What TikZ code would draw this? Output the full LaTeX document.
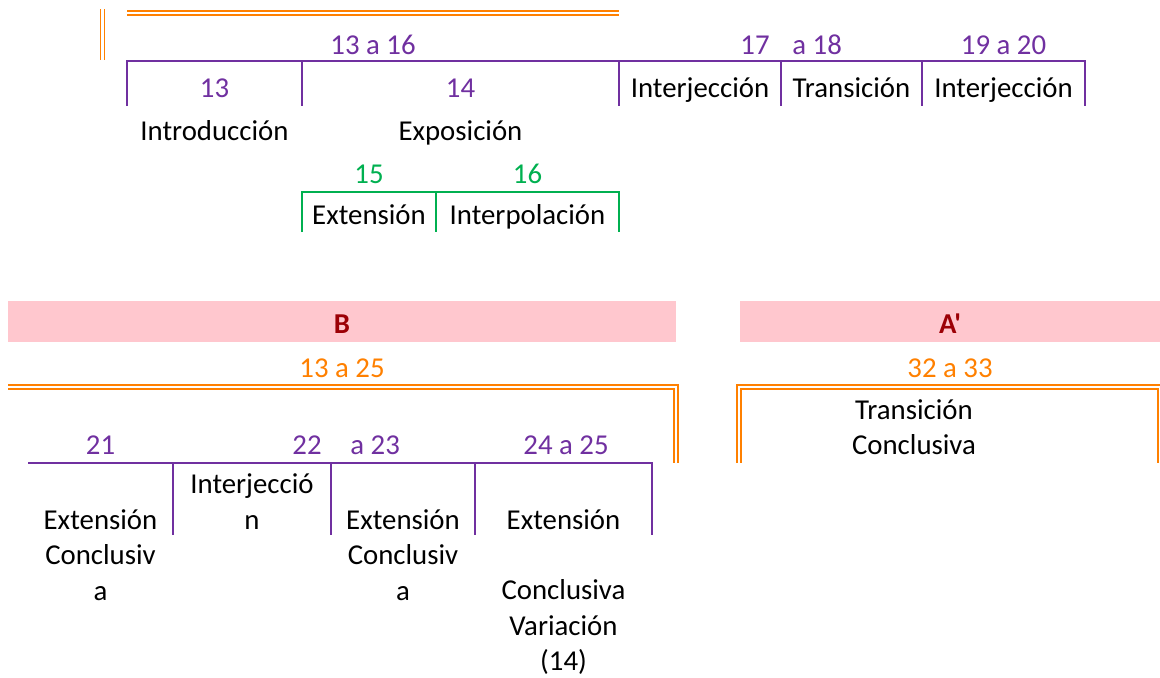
\documentclass[tikz,border=0pt]{standalone}
\usepackage{fontspec}
\setmainfont{Carlito}[Ligatures=TeXOff]
\usetikzlibrary{positioning}
\definecolor{plum}{RGB}{112,48,160}
\definecolor{fern}{RGB}{0,176,80}
\definecolor{tangerine}{RGB}{255,128,0}
\definecolor{blush}{RGB}{255,199,206}
\definecolor{wine}{RGB}{156,0,6}
\tikzset{
  lbl/.style={anchor=base,inner sep=0pt,font=\fontsize{14.4}{17.75}\selectfont,text=#1},
  lbl/.default=black,
  rule/.style={draw=#1,line width=1pt},
  rule/.default=plum,
  dbl/.style={draw=tangerine,line width=0.85pt,double=white,double distance=1.15pt},
  band/.style={fill=blush},
  sect/.style={lbl=wine,font=\fontsize{14.4}{17.75}\selectfont\bfseries},
}
\begin{document}
\begin{tikzpicture}[x=0.5pt,y=-0.5pt]
  \useasboundingbox (0,0) rectangle (1160,677);
  % upper block
  \draw[dbl] (102.5,9) -- (102.5,60);
  \draw[dbl] (127,13) -- (619,13);
  \draw[rule] (127,106) -- (127,61) -- (1085,61) -- (1085,106);
  \foreach \x in {302,619,781,922} \draw[rule] (\x,61) -- (\x,106);
  \node[lbl=plum] (r1316) at (373,54) {13 a 16};
  \node[lbl=plum,anchor=base east] (r17) at (770,54) {17};
  \node[lbl=plum,anchor=base west] (r18) at (792,54) {a 18};
  \node[lbl=plum] (r1920) at (1003.5,54) {19 a 20};
  \node[lbl=plum] (m13) at (214.5,97) {13};
  \node[lbl=plum] (m14) at (460.5,97) {14};
  \foreach \x/\t [count=\k] in {700/Interjección,851.5/Transición,1003.5/Interjección}
    \node[lbl] (top\k) at (\x,97) {\t};
  \node[lbl] (intro) at (214.5,140) {Introducción};
  \node[lbl] (expo) at (460.5,140) {Exposición};
  % sub block in green
  \draw[rule=fern] (302,232) -- (302,192) -- (619,192) -- (619,232);
  \draw[rule=fern] (436,192) -- (436,232);
  \node[lbl=fern] (m15) at (369,183) {15};
  \node[lbl=fern] (m16) at (527.5,183) {16};
  \node[lbl] (ext) at (369,224) {Extensión};
  \node[lbl] (interp) at (527.5,224) {Interpolación};
  % section bands
  \fill[band] (8,301) rectangle (676,342);
  \fill[band] (740,301) rectangle (1160,342);
  \node[sect] (secB) at (342,333) {B};
  \node[sect] (secA) at (950,333) {A'};
  \node[lbl=tangerine] (r1325) at (342,377) {13 a 25};
  \node[lbl=tangerine] (r3233) at (950,377) {32 a 33};
  \draw[dbl] (8,387) -- (676,387) -- (676,463);
  \draw[dbl] (739,463) -- (739,387) -- (1160,387) -- (1160,463);
  \node[lbl] (trans) at (914,419) {Transición};
  \node[lbl] (concl) at (914,454) {Conclusiva};
  % lower block
  \draw[rule] (28,463) -- (652,463) -- (652,535);
  \foreach \x in {173,331,475} \draw[rule] (\x,463) -- (\x,535);
  \node[lbl=plum] (m21) at (100.5,454) {21};
  \node[lbl=plum,anchor=base east] (m22) at (322,454) {22};
  \node[lbl=plum,anchor=base west] (m23) at (350,454) {a 23};
  \node[lbl=plum] (m2425) at (566,454) {24 a 25};
  \foreach \t [count=\k from 0] in {Extensión,Conclusiv,a} {
    \node[lbl] (ea\k) at (100.5,{529+35.5*\k}) {\t};
    \node[lbl] (eb\k) at (403,{529+35.5*\k}) {\t};
  }
  \node[lbl] (inter0) at (252,493) {Interjecció};
  \node[lbl] (inter1) at (252,529) {n};
  \node[lbl] (ec0) at (563.5,529) {Extensión};
  \foreach \t/\y [count=\k] in {Conclusiva/599,Variación/635,(14)/670}
    \node[lbl] (ec\k) at (563.5,\y) {\t};
\end{tikzpicture}
\end{document}
